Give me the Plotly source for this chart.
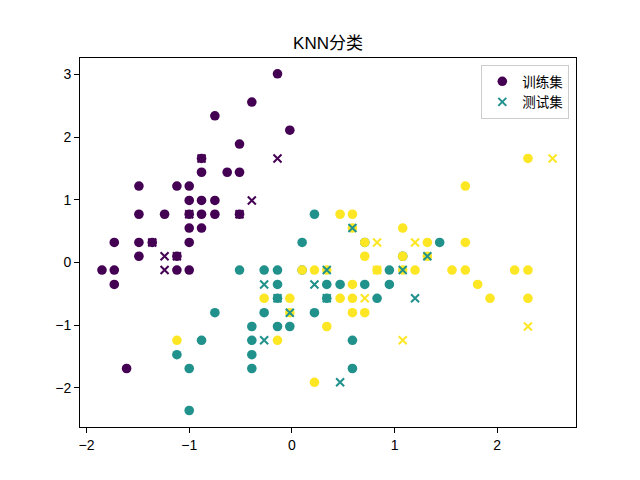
import plotly.graph_objects as go

# ---- data (standardized features) ----
# class 0 (purple) training points
train0_x = [-0.75, -0.51, -0.88, -0.88, -0.63, -0.51, -1.49, -1.12, -1.00, -1.00, -0.88, -0.75,
            -1.49, -1.24, -1.00, -0.88, -0.75, -0.51, -1.00, -0.88, -1.73, -1.49, -1.36, -1.00,
            -1.49, -1.12, -1.85, -1.73, -1.12, -1.00, -1.73, -0.14, -0.39, -0.02, -1.61]
train0_y = [2.34, 1.89, 1.66, 1.44, 1.44, 1.44, 1.22, 1.22, 1.22, 0.99, 0.99, 0.99,
            0.77, 0.77, 0.77, 0.77, 0.77, 0.77, 0.55, 0.55, 0.32, 0.32, 0.32, 0.32,
            0.10, 0.10, -0.12, -0.12, -0.12, -0.12, -0.35, 3.01, 2.56, 2.11, -1.69]
# class 1 (teal) training points
train1_x = [-0.51, 0.22, 0.10, 0.71, 1.08, -0.27, -0.14, 0.10, 0.95, -0.14, 0.34, 0.47,
            0.71, 0.95, -0.14, 0.34, 0.83, 1.44, -0.27, 0.22, -0.39, -0.14, -0.02, -0.39,
            0.59, -0.39, -0.39, 0.59, -0.75, -0.88, -1.12, -1.00, -1.00]
train1_y = [-0.12, 0.77, 0.32, 0.32, 0.10, -0.12, -0.12, -0.12, -0.12, -0.35, -0.35, -0.35,
            -0.35, -0.35, -0.57, -0.57, -0.57, 0.32, -0.80, -0.80, -1.02, -1.02, -1.02, -1.24,
            -1.24, -1.47, -1.69, -1.69, -0.80, -1.24, -1.47, -1.69, -2.36]
# class 2 (yellow) training points
train2_x = [0.47, 0.59, 0.59, 1.08, 0.71, 0.71, 1.08, 0.10, 0.22, 0.34, 0.83, 1.08,
            0.59, -0.27, -0.02, 0.47, 0.59, 1.69, 1.32, 1.69, 1.32, 1.20, 1.56, 1.69,
            2.17, 2.30, 1.81, 1.93, 2.30, 2.30, -0.02, 0.59, 0.71, 0.34, -0.14, 0.22, -1.12]
train2_y = [0.77, 0.77, 0.55, 0.55, 0.32, 0.10, 0.10, -0.12, -0.12, -0.12, -0.12, -0.12,
            -0.35, -0.57, -0.57, -0.57, -0.57, 1.22, 0.32, 0.32, 0.10, -0.12, -0.12, -0.12,
            -0.12, -0.12, -0.35, -0.57, -0.57, 1.66, -0.80, -0.80, -0.80, -1.02, -1.24, -1.91, -1.24]

# test points
test1_x = [0.59, 0.34, 1.08, -0.27, 0.22, -0.14, 0.34, 1.32, 1.20, -0.02, -0.27, 0.47]
test1_y = [0.55, -0.12, -0.12, -0.35, -0.35, -0.57, -0.57, 0.10, -0.57, -0.80, -1.24, -1.91]
test0_x = [-0.88, -1.00, -0.51, -1.36, -1.24, -1.12, -1.24, -0.14, -0.39]
test0_y = [1.66, 0.77, 0.77, 0.32, 0.10, 0.10, -0.12, 1.66, 0.99]
test2_x = [0.83, 0.83, 0.71, 1.20, 2.54, 2.30, 1.08]
test2_y = [0.32, -0.12, -0.57, 0.32, 1.66, -1.02, -1.24]

colors = ["#440154", "#21918c", "#fde725"]
title_text = "KNN分类"
legend_names = ["训练集", "测试集"]

train_x = train0_x + train1_x + train2_x
train_y = train0_y + train1_y + train2_y
train_c = [colors[0]] * len(train0_x) + [colors[1]] * len(train1_x) + [colors[2]] * len(train2_x)

test_x = test1_x + test0_x + test2_x
test_y = test1_y + test0_y + test2_y
test_c = [colors[1]] * len(test1_x) + [colors[0]] * len(test0_x) + [colors[2]] * len(test2_x)

font_family = "Liberation Sans, Arial, Noto Sans CJK SC, sans-serif"

fig = go.Figure()
fig.add_trace(go.Scatter(
    x=train_x, y=train_y, mode="markers", name=legend_names[0],
    marker=dict(symbol="circle", size=9.6, color=train_c, line=dict(width=0)),
))
fig.add_trace(go.Scatter(
    x=test_x, y=test_y, mode="markers", name=legend_names[1],
    marker=dict(symbol="x-thin", size=8, color=test_c,
                line=dict(width=2, color=test_c)),
))

axis_common = dict(
    showline=True, mirror=True, linecolor="black", linewidth=1,
    ticks="outside", ticklen=5, tickwidth=1, tickcolor="black",
    showgrid=False, zeroline=False,
    tickfont=dict(size=14, color="black", family=font_family),
)

fig.update_layout(
    width=640, height=480,
    margin=dict(l=80, r=64, t=58, b=53),
    paper_bgcolor="white", plot_bgcolor="white",
    font=dict(family=font_family, color="black"),
    title=dict(text=title_text, x=0.5, xref="paper", y=1 - 43.5 / 480, yref="container",
               xanchor="center", yanchor="middle",
               font=dict(size=17, color="black", family=font_family)),
    xaxis=dict(range=[-2.064, 2.768], tickvals=[-2, -1, 0, 1, 2], **axis_common),
    yaxis=dict(range=[-2.623, 3.262], tickvals=[-2, -1, 0, 1, 2, 3], **axis_common),
    legend=dict(x=0.9865, y=0.981, xanchor="right", yanchor="top",
                bgcolor="rgba(255,255,255,0.8)", bordercolor="#cccccc", borderwidth=1,
                tracegroupgap=0,
                font=dict(size=13.5, color="black", family=font_family)),
    showlegend=True,
)

fig.write_html("out.html")
